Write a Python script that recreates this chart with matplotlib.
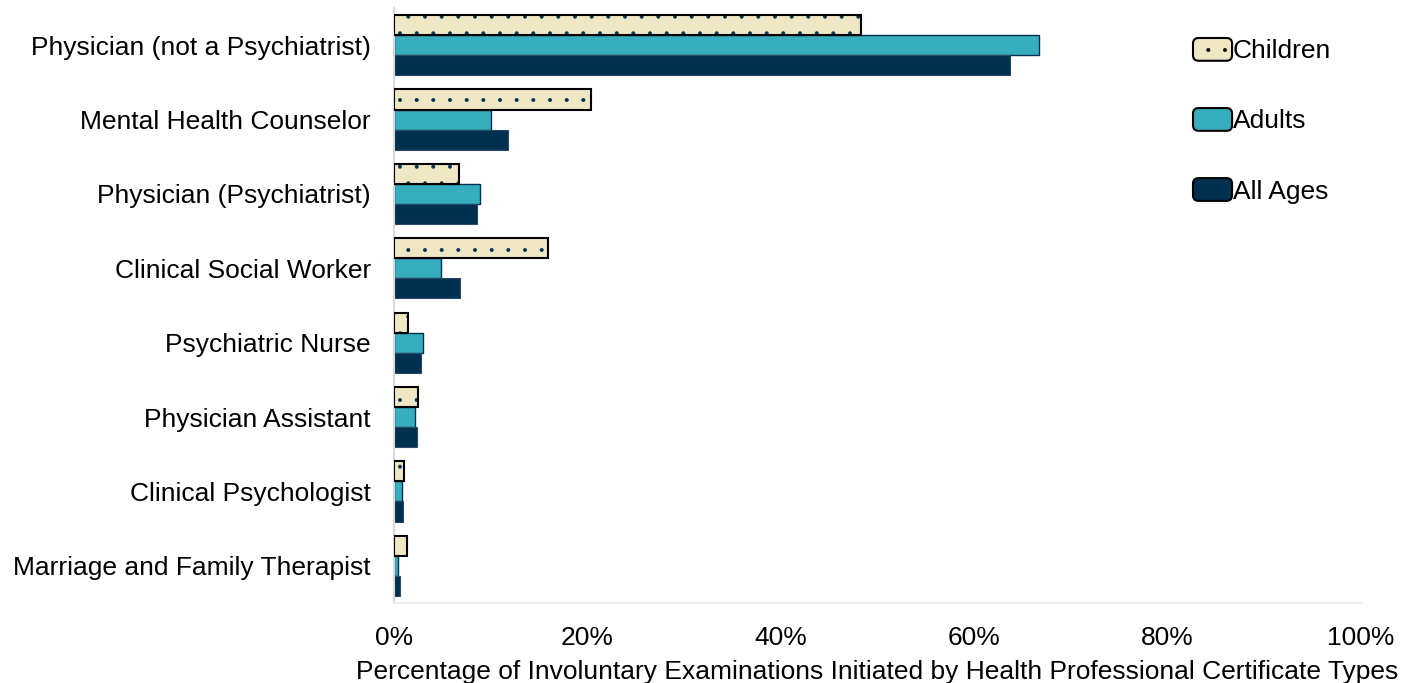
import matplotlib
matplotlib.use("Agg")
import matplotlib.pyplot as plt
import numpy as np
from matplotlib.patches import FancyBboxPatch, Rectangle
from matplotlib.legend_handler import HandlerPatch

categories = ["Physician (not a Psychiatrist)", "Mental Health Counselor",
              "Physician (Psychiatrist)", "Clinical Social Worker",
              "Psychiatric Nurse", "Physician Assistant",
              "Clinical Psychologist", "Marriage and Family Therapist"]
children = [48.3, 20.4, 6.7, 15.9, 1.4, 2.5, 1.0, 1.3]
adults = [66.7, 10.0, 8.9, 4.9, 3.0, 2.2, 0.8, 0.4]
all_ages = [63.7, 11.8, 8.6, 6.8, 2.8, 2.4, 0.9, 0.6]
series_names = ["Children", "Adults", "All Ages"]
xticks = [0, 20, 40, 60, 80, 100]
xlabel = "Percentage of Involuntary Examinations Initiated by Health Professional Certificate Types"

C_CHILD = "#EFE6C4"
C_ADULT = "#36AEBE"
C_ALL = "#003050"
FS = 19

plt.rcParams['font.family'] = ['Liberation Sans', 'DejaVu Sans']
plt.rcParams['hatch.linewidth'] = 0.4

fig = plt.figure(figsize=(14.19, 6.83), dpi=100)
ax = fig.add_axes([394/1419, 1-603/683, (1361-394)/1419, (603-8)/683])

y = np.arange(len(categories))
h = 0.27

# children: fill + dot hatch (navy), then black outline
ax.barh(y - h, children, height=h, color=C_CHILD, edgecolor=C_ALL, hatch='.', linewidth=0, zorder=2)
ax.barh(y - h, children, height=h, fill=False, edgecolor='black', linewidth=1.5, zorder=3)
ax.barh(y, adults, height=h, color=C_ADULT, edgecolor=C_ALL, linewidth=1.0, zorder=2)
ax.barh(y + h, all_ages, height=h, color=C_ALL, edgecolor='#2a4a66', linewidth=0.8, zorder=2)

ax.set_ylim(len(categories) - 0.5, -0.5)
ax.set_xlim(0, 100)
ax.set_yticks(y)
ax.set_yticklabels(categories, fontsize=FS)
ax.set_xticks(xticks)
ax.set_xticklabels([f"{v}%" for v in xticks], fontsize=FS)
ax.tick_params(axis='both', length=0)
ax.tick_params(axis='y', pad=16.5)
ax.tick_params(axis='x', pad=16.5)
ax.set_xlabel(xlabel, fontsize=FS, labelpad=7)

for s in ['top', 'right']:
    ax.spines[s].set_visible(False)
ax.spines['left'].set_color('#d9d9d9')
ax.spines['left'].set_linewidth(1.5)
ax.spines['bottom'].set_color('#eeeeee')
ax.spines['bottom'].set_linewidth(1.5)


class RoundHandler(HandlerPatch):
    def __init__(self, fc, hatch=None):
        super().__init__()
        self.fc = fc
        self.hatch = hatch

    def create_artists(self, legend, orig_handle, xdescent, ydescent, width, height, fontsize, trans):
        p = FancyBboxPatch((-xdescent, -ydescent), width, height,
                           boxstyle="round,pad=0,rounding_size=4",
                           facecolor=self.fc, edgecolor='black', linewidth=1.5,
                           hatch=self.hatch, transform=trans)
        return [p]


hs = [Rectangle((0, 0), 1, 1) for _ in range(3)]
leg = fig.legend(hs, series_names, loc='upper left',
                 bbox_to_anchor=(1193/1419, 1-38/683),
                 frameon=False, fontsize=FS,
                 handlelength=1.48, handleheight=0.95, handletextpad=0.02,
                 labelspacing=1.69, borderaxespad=0, borderpad=0,
                 handler_map={hs[0]: RoundHandler(C_CHILD, '.'),
                              hs[1]: RoundHandler(C_ADULT),
                              hs[2]: RoundHandler(C_ALL)})

fig.savefig("out.png", dpi=100)
